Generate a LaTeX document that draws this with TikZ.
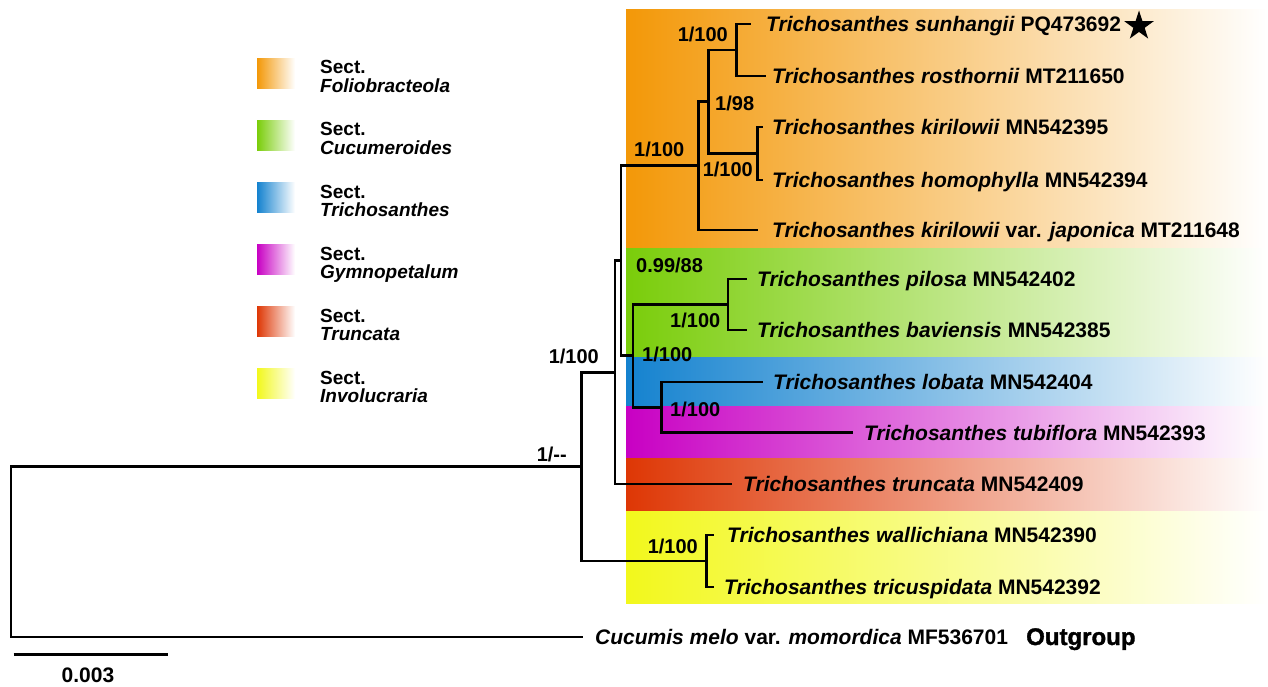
\documentclass[tikz,border=0pt]{standalone}
\usepackage{fontspec}
\setmainfont{Liberation Sans}
\newfontfamily\heavyfont[BoldFeatures={FakeBold=1.5}]{Liberation Sans}
\usetikzlibrary{shapes.geometric}
\definecolor{cOrange}{RGB}{243,152,8}
\definecolor{cGreen}{RGB}{122,205,10}
\definecolor{cBlue}{RGB}{20,130,207}
\definecolor{cMagenta}{RGB}{200,0,195}
\definecolor{cRed}{RGB}{222,55,5}
\definecolor{cYellow}{RGB}{242,248,28}
\begin{document}
\begin{tikzpicture}[x=1pt,y=-1pt,
  br/.style={line width=2.9pt, line join=miter},
  taxon/.style={anchor=west, inner sep=0pt, text height=15pt, text depth=0pt,
    font=\fontsize{21}{25}\selectfont\bfseries},
  supp/.style={inner sep=0pt, font=\fontsize{20}{24}\selectfont\bfseries},
  legA/.style={anchor=base west, inner sep=0pt, font=\fontsize{19}{15}\selectfont\bfseries}]
\useasboundingbox (0,0) rectangle (1268,687);
% coloured bands
\shade[left color=cOrange,right color=white] (626,9.5) rectangle (1268,248.3);
\shade[left color=cGreen,right color=white] (626,248.3) rectangle (1268,357.3);
\shade[left color=cBlue,right color=white] (626,357.3) rectangle (1268,406);
\shade[left color=cMagenta,right color=white] (626,406) rectangle (1268,458.3);
\shade[left color=cRed,right color=white] (626,458.3) rectangle (1268,510.8);
\shade[left color=cYellow,right color=white] (626,511.8) rectangle (1268,603.3);
% legend
\foreach \c [count=\i from 0] in {cOrange,cGreen,cBlue,cMagenta,cRed,cYellow}{
  \shade[left color=\c,right color=white] (257,{58.3+62*\i}) rectangle (295,{88.6+62*\i});
  \node[legA] (sect\i) at (320,{74+62*\i}) {Sect.};
}
\node[legA] (lg0) at (320,92.5) {\textit{Foliobracteola}};
\node[legA] (lg1) at (320,154.5) {\textit{Cucumeroides}};
\node[legA] (lg2) at (320,216.5) {\textit{Trichosanthes}};
\node[legA] (lg3) at (320,278.5) {\textit{Gymnopetalum}};
\node[legA] (lg4) at (320,340.5) {\textit{Truncata}};
\node[legA] (lg5) at (320,402.5) {\textit{Involucraria}};
% internal nodes
\coordinate (R) at (11,551.85);
\coordinate (K) at (581.7,466.7);
\coordinate (A) at (615,372.4);
\coordinate (B) at (621,260.9);
\coordinate (J) at (698.8,165.9);
\coordinate (I) at (708.6,101.75);
\coordinate (G) at (736.3,50);
\coordinate (H) at (757.6,153.5);
\coordinate (C) at (633,355.9);
\coordinate (E) at (728,304.5);
\coordinate (D) at (661.7,407.35);
\coordinate (F) at (706.7,561);
% tips
\coordinate (e1) at (751,24);
\coordinate (e2) at (766,76);
\coordinate (e3) at (763,127);
\coordinate (e4) at (763,180);
\coordinate (e5) at (757.6,230);
\coordinate (e6) at (747,279);
\coordinate (e7) at (747,330);
\coordinate (e8) at (763,382);
\coordinate (e9) at (853,432.7);
\coordinate (e10) at (732,484);
\coordinate (e11) at (714,535);
\coordinate (e12) at (714,587);
\coordinate (e13) at (583,637);
% branches
\draw[br] (R) |- (K);   \draw[br] (R) |- (e13);
\draw[br] (K) |- (A);   \draw[br] (K) |- (F);
\draw[br] (A) |- (B);   \draw[br] (A) |- (e10);
\draw[br] (B) |- (J);   \draw[br] (B) |- (C);
\draw[br] (J) |- (I);   \draw[br] (J) |- (e5);
\draw[br] (I) |- (G);   \draw[br] (I) |- (H);
\draw[br] (G) |- (e1);  \draw[br] (G) |- (e2);
\draw[br] (H) |- (e3);  \draw[br] (H) |- (e4);
\draw[br] (C) |- (E);   \draw[br] (C) |- (D);
\draw[br] (E) |- (e6);  \draw[br] (E) |- (e7);
\draw[br] (D) |- (e8);  \draw[br] (D) |- (e9);
\draw[br] (F) |- (e11); \draw[br] (F) |- (e12);
% taxa
\node[taxon] (t1) at (766,24) {\textit{Trichosanthes sunhangii} PQ473692};
\node[star, star points=5, star point ratio=2.618, fill=black, minimum size=31pt, inner sep=0pt] (star) at (1139,26) {};
\node[taxon] (t2) at (772,76) {\textit{Trichosanthes rosthornii} MT211650};
\node[taxon] (t3) at (772,127) {\textit{Trichosanthes kirilowii} MN542395};
\node[taxon] (t4) at (772,180) {\textit{Trichosanthes homophylla} MN542394};
\node[taxon] (t5) at (772,230) {\textit{Trichosanthes kirilowii} var. \textit{japonica} MT211648};
\node[taxon] (t6) at (757,279) {\textit{Trichosanthes pilosa} MN542402};
\node[taxon] (t7) at (757,330) {\textit{Trichosanthes baviensis} MN542385};
\node[taxon] (t8) at (773,382) {\textit{Trichosanthes lobata} MN542404};
\node[taxon] (t9) at (864,432.7) {\textit{Trichosanthes tubiflora} MN542393};
\node[taxon] (t10) at (743,484) {\textit{Trichosanthes truncata} MN542409};
\node[taxon] (t11) at (727,535) {\textit{Trichosanthes wallichiana} MN542390};
\node[taxon] (t12) at (724,587) {\textit{Trichosanthes tricuspidata} MN542392};
\node[taxon] (t13) at (595,637) {\textit{Cucumis melo} var. \textit{momordica} MF536701};
\node[anchor=base west, inner sep=0pt, font=\fontsize{24}{28}\selectfont\heavyfont\bfseries] (og) at (1026,645) {Outgroup};
% support values
\node[supp, anchor=base east] (sG) at (728,42) {1/100};
\node[supp, anchor=base west] (sI) at (715,111) {1/98};
\node[supp, anchor=base west] (sJ) at (634,157) {1/100};
\node[supp, anchor=base east] (sH) at (753,177) {1/100};
\node[supp, anchor=base west] (sB) at (636,272) {0.99/88};
\node[supp, anchor=base west] (sE) at (670,327) {1/100};
\node[supp, anchor=base west] (sC) at (642,361) {1/100};
\node[supp, anchor=base west] (sD) at (670,416) {1/100};
\node[supp, anchor=base east] (sA) at (599,363) {1/100};
\node[supp, anchor=base east] (sF) at (698,553) {1/100};
\node[supp, anchor=base east] (sK) at (567,461) {1/-{}-};
% scale bar
\coordinate (sbL) at (13.5,654.3);
\coordinate (sbR) at (168,654.3);
\draw[line width=2.9pt] (sbL) -- (sbR);
\node[supp, anchor=base, font=\fontsize{21}{25}\selectfont\bfseries] (sbt) at (88,682) {0.003};
\end{tikzpicture}
\end{document}
